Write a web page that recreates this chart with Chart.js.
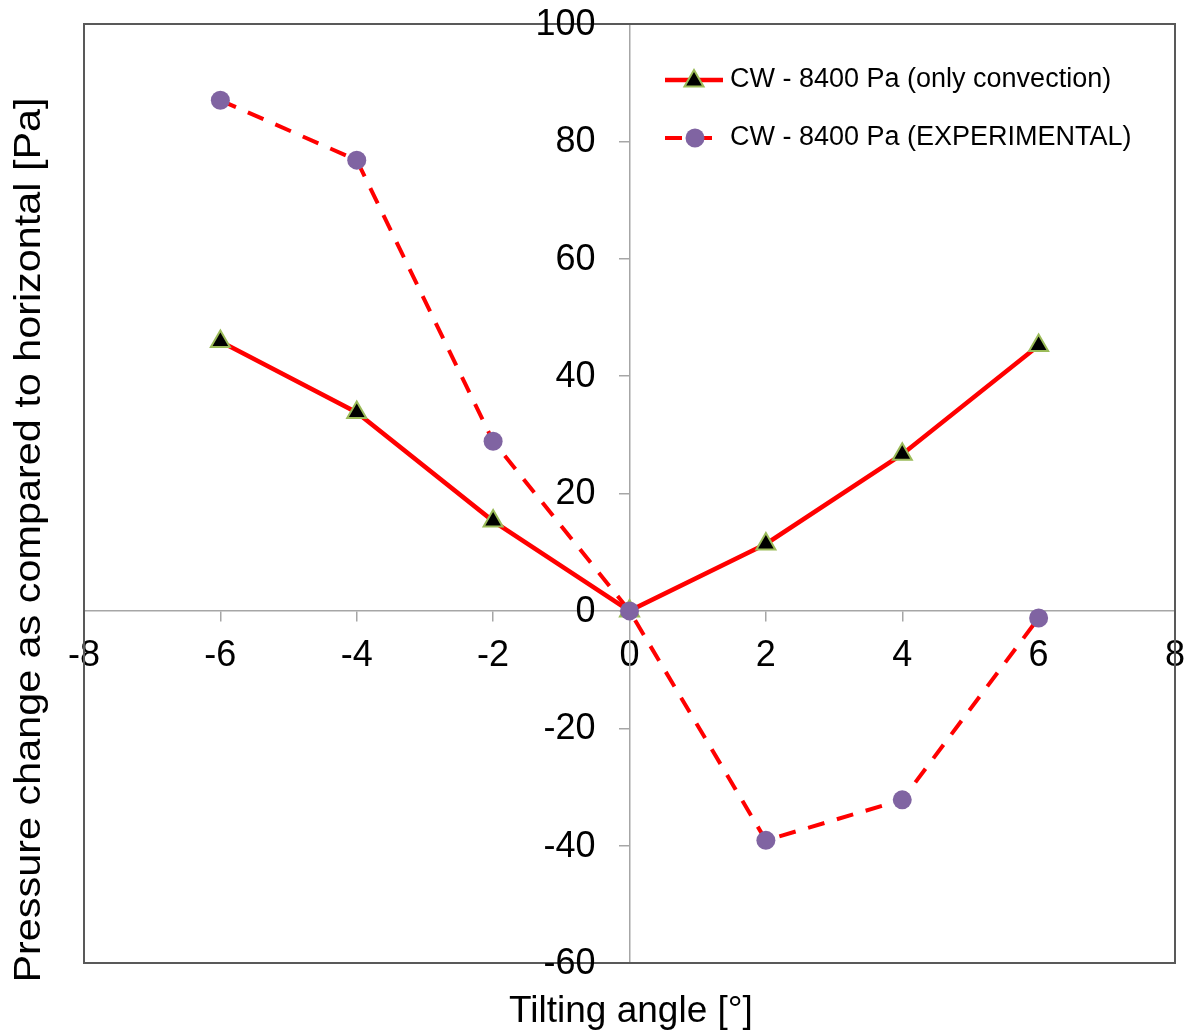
<!DOCTYPE html>
<html>
<head>
<meta charset="utf-8">
<script src="https://cdn.jsdelivr.net/npm/chart.js"></script>
<style>
  html, body { margin: 0; padding: 0; background: #fff; }
  #wrap { width: 1188px; height: 1033px; position: relative; }
</style>
</head>
<body>
<div id="wrap"><canvas id="tiltChart"></canvas></div>
<script>
// data
const angles = [-6, -4, -2, 0, 2, 4, 6];
const convectionOnly = [45.9, 33.8, 15.3, 0, 11.4, 26.7, 45.2];
const experimental = [87.0, 76.8, 28.9, 0, -39.1, -32.2, -1.2];
const xTicks = [-8, -6, -4, -2, 0, 2, 4, 6, 8];
const yTicks = [-60, -40, -20, 0, 20, 40, 60, 80, 100];
const seriesNames = ['CW - 8400 Pa (only convection)', 'CW - 8400 Pa (EXPERIMENTAL)'];
const xTitle = 'Tilting angle [°]';
const yTitle = 'Pressure change as compared to horizontal [Pa]';

const FONT = "'Liberation Sans', Arial, sans-serif";
const RED = '#ff0000';
const PURPLE = '#8064a2';
const GREEN = '#9bbb59';
const AXIS_GREY = '#a6a6a6';

function toPoints(xs, ys) {
    return xs.map((x, i) => ({ x: x, y: ys[i] }));
}

// triangle same shape as chart.js 'triangle' point style
function triangle(ctx, x, y, r) {
    ctx.beginPath();
    for (let k = 0; k < 3; k++) {
        const a = k * 2 * Math.PI / 3;
        const px = x + Math.sin(a) * r;
        const py = y - Math.cos(a) * r;
        if (k === 0) ctx.moveTo(px, py); else ctx.lineTo(px, py);
    }
    ctx.closePath();
}

const framePlugin = {
    id: 'frame',
    beforeDatasetsDraw(chart) {
        const { ctx, chartArea: a } = chart;
        ctx.save();
        ctx.strokeStyle = '#595959';
        ctx.lineWidth = 2;
        ctx.strokeRect(a.left, a.top, a.right - a.left, a.bottom - a.top);
        ctx.restore();
    },
    afterDraw(chart) {
        const { ctx } = chart;
        const xs = chart.scales.x, ys = chart.scales.y;

        // y tick labels, left of the zero line (chart.js puts them on the line)
        ctx.save();
        ctx.fillStyle = '#000';
        ctx.font = '36px ' + FONT;
        ctx.textAlign = 'right';
        ctx.textBaseline = 'middle';
        const x0 = xs.getPixelForValue(0);
        ys.ticks.forEach(t => {
            ctx.fillText(String(t.value), x0 - 34, ys.getPixelForValue(t.value) + 1);
        });
        ctx.restore();

        // axis titles
        ctx.save();
        ctx.fillStyle = '#000';
        ctx.font = '37px ' + FONT;
        ctx.textAlign = 'center';
        ctx.textBaseline = 'middle';
        ctx.fillText(xTitle, 631, 1012);
        const w = ctx.measureText(yTitle).width;
        ctx.translate(30, 540);
        ctx.rotate(-Math.PI / 2);
        ctx.scale(885 / w, 1);
        ctx.fillText(yTitle, 0, 0);
        ctx.restore();

        // legend
        ctx.save();
        ctx.font = '27px ' + FONT;
        ctx.textAlign = 'left';
        ctx.textBaseline = 'middle';
        ctx.fillStyle = '#000';
        ctx.strokeStyle = RED;
        ctx.lineWidth = 4.5;
        ctx.beginPath(); ctx.moveTo(665, 80); ctx.lineTo(723, 80); ctx.stroke();
        triangle(ctx, 694, 81, 11);
        ctx.fillStyle = '#000'; ctx.fill();
        ctx.strokeStyle = GREEN; ctx.lineWidth = 2; ctx.stroke();
        ctx.fillStyle = '#000';
        ctx.fillText(seriesNames[0], 730, 80);
        ctx.strokeStyle = RED;
        ctx.lineWidth = 4;
        ctx.beginPath(); ctx.moveTo(665, 138); ctx.lineTo(682, 138); ctx.stroke();
        ctx.beginPath(); ctx.moveTo(700, 138); ctx.lineTo(712, 138); ctx.stroke();
        ctx.beginPath(); ctx.arc(695, 138, 9.5, 0, 2 * Math.PI);
        ctx.fillStyle = PURPLE; ctx.fill();
        ctx.fillStyle = '#000';
        ctx.fillText(seriesNames[1], 730, 138);
        ctx.restore();
    }
};

const ctx = document.getElementById('tiltChart').getContext('2d');
const tiltChart = new Chart(ctx, {
    type: 'scatter',
    data: {
        datasets: [{
            label: seriesNames[0],
            data: toPoints(angles, convectionOnly),
            showLine: true,
            borderColor: RED,
            borderWidth: 4.5,
            pointStyle: 'triangle',
            pointRadius: 11,
            pointHoverRadius: 11,
            pointBackgroundColor: '#000',
            pointBorderColor: GREEN,
            pointBorderWidth: 2,
            order: 2
        }, {
            label: seriesNames[1],
            data: toPoints(angles, experimental),
            showLine: true,
            borderColor: RED,
            borderWidth: 4,
            borderDash: [17, 13],
            pointStyle: 'circle',
            pointRadius: 9.5,
            pointHoverRadius: 9.5,
            pointBackgroundColor: PURPLE,
            pointBorderColor: PURPLE,
            pointBorderWidth: 0,
            order: 1
        }]
    },
    options: {
        responsive: true,
        maintainAspectRatio: false,
        animation: false,
        layout: { padding: { left: 84, right: 3, top: 24, bottom: 70 } },
        plugins: {
            legend: { display: false },
            tooltip: { enabled: false }
        },
        scales: {
            x: {
                type: 'linear',
                min: -8, max: 8,
                position: { y: 0 },
                afterBuildTicks: s => { s.ticks = xTicks.map(v => ({ value: v })); },
                // let the end labels overhang like in the original
                afterFit: s => { s.paddingLeft = 0; s.paddingRight = 0; },
                grid: { drawOnChartArea: false, drawTicks: true, tickLength: 10, color: AXIS_GREY, lineWidth: 1.5 },
                border: { display: true, color: AXIS_GREY, width: 1.5 },
                ticks: { color: '#000', font: { family: FONT, size: 36 }, padding: 14, maxRotation: 0, autoSkip: false }
            },
            y: {
                type: 'linear',
                min: -60, max: 100,
                position: { x: 0 },
                afterBuildTicks: s => { s.ticks = yTicks.map(v => ({ value: v })); },
                grid: { drawOnChartArea: false, drawTicks: true, tickLength: 10, color: AXIS_GREY, lineWidth: 1.5 },
                border: { display: true, color: AXIS_GREY, width: 1.5 },
                ticks: { display: false }
            }
        }
    },
    plugins: [framePlugin]
});
</script>
</body>
</html>
